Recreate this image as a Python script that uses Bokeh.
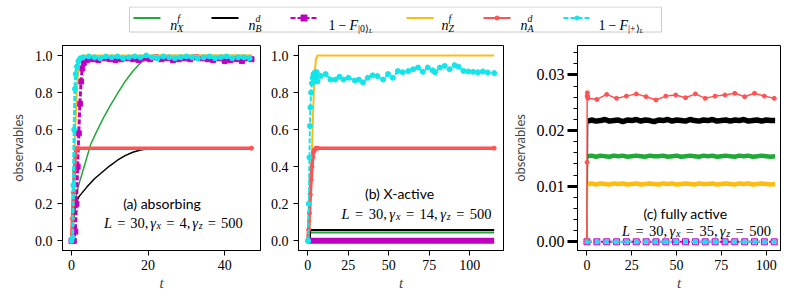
from bokeh.plotting import figure
from bokeh.models import Range1d, Label, FixedTicker, PrintfTickFormatter
from bokeh.layouts import row, column
from bokeh.embed import file_html
from bokeh.resources import INLINE

GREEN = "#22a838"; BLACK = "#000000"; MAGENTA = "#c000c0"
ORANGE = "#fcbc10"; RED = "#ff5252"; CYAN = "#12e6ea"

SERIF = "Liberation Serif"
AXSERIF = "'Liberation Serif', serif"
SANS = "Lato"

# ---------------- panel (a): absorbing ----------------
A_T_GREEN = [0, 0.5, 1.0, 1.5, 2, 3, 4, 5, 6, 8, 10, 12, 14, 16, 18, 20, 22, 30, 40, 47]
A_V_GREEN = [0, 0.10, 0.22, 0.27, 0.31, 0.38, 0.45, 0.52, 0.565, 0.65, 0.725, 0.795, 0.86, 0.915, 0.96, 0.99, 1.0, 1.0, 1.0, 1.0]
A_T_BLACK = [0, 0.5, 1, 2, 4, 6, 8, 10, 12, 14, 16, 18, 20, 24, 30, 47]
A_V_BLACK = [0, 0.1, 0.2, 0.24, 0.29, 0.335, 0.37, 0.405, 0.435, 0.46, 0.478, 0.49, 0.497, 0.5, 0.5, 0.5]
A_T_MAG = [0, 0.6, 1.0, 1.3, 1.6, 1.9, 2.2, 2.5, 2.8, 3.2, 4, 5.5, 7, 8.5, 10, 11.5, 13, 14.5, 16, 17.5,
           19, 20.5, 22, 23.5, 25, 26.5, 28, 29.5, 31, 32.5, 34, 35.5, 37, 38.5, 40, 41.5, 43, 44.5, 46, 47]
A_V_MAG = [0, 0, 0.05, 0.2, 0.4, 0.58, 0.74, 0.86, 0.93, 0.96, 0.975, 0.98, 0.975, 0.985, 0.98, 0.975, 0.98, 0.985, 0.98, 0.975,
           0.985, 0.98, 0.99, 0.98, 0.985, 0.975, 0.98, 0.985, 0.98, 0.99, 0.985, 0.98, 0.975, 0.985, 0.97, 0.975, 0.98, 0.97, 0.985, 0.98]
A_T_ORANGE = [0, 0.5, 1.0, 1.5, 2.0, 2.5, 3.0, 10, 20, 30, 47]
A_V_ORANGE = [0, 0.3, 0.62, 0.85, 0.96, 0.99, 1.0, 1.0, 1.0, 1.0, 1.0]
A_T_RED = [0, 0.25, 0.5, 0.75, 1.0, 1.25, 1.5, 47]
A_V_RED = [0, 0.12, 0.26, 0.38, 0.46, 0.49, 0.5, 0.5]
A_T_CYAN = [0, 0.3, 0.5, 0.7, 0.9, 1.1, 1.4, 1.8, 2.3, 3, 4.5, 6, 7.5, 9, 10.5, 12, 13.5, 15, 16.5, 18, 19.5,
            21, 22.5, 24, 25.5, 27, 28.5, 30, 31.5, 33, 34.5, 36, 37.5, 39, 40.5, 42, 43.5, 45, 46.5]
A_V_CYAN = [0, 0.02, 0.3, 0.6, 0.82, 0.9, 0.94, 0.97, 0.985, 0.99, 0.995, 0.99, 0.985, 0.995, 0.99, 0.995, 0.985, 0.99, 0.995, 0.99, 1.0,
            0.99, 0.985, 0.995, 0.99, 0.985, 0.99, 0.995, 0.99, 0.985, 0.99, 0.995, 0.985, 0.99, 0.995, 0.985, 0.99, 0.99, 0.985]

# ---------------- panel (b): X-active ----------------
B_T_GREEN = [0, 1.0, 1.5, 115]
B_V_GREEN = [0, 0, 0.045, 0.045]
B_T_BLACK = [0, 1.0, 1.5, 115]
B_V_BLACK = [0, 0, 0.058, 0.058]
B_T_MAG = [0, 115]
B_V_MAG = [0, 0]
B_T_ORANGE = [0, 1, 2, 3, 4, 5, 6, 115]
B_V_ORANGE = [0, 0.08, 0.3, 0.62, 0.88, 0.98, 1.0, 1.0]
B_T_RED = [0, 0.5, 1, 1.5, 2, 2.5, 3, 3.5, 4, 5, 6, 115]
B_V_RED = [0, 0.06, 0.15, 0.25, 0.33, 0.4, 0.45, 0.48, 0.49, 0.5, 0.5, 0.5]
B_T_CYAN = [0, 0.3, 0.6, 1.0, 1.3, 1.6, 2.0, 2.5, 3.0, 3.5, 4.0, 4.5, 5.0, 5.5, 6.0, 8, 11, 14, 17, 19.5,
            22, 25, 29, 31.5, 34, 37, 40, 43, 46.5, 49.5, 52.5, 55.5, 58.5, 62, 65, 68, 71, 74, 77, 78.5,
            81.5, 84.5, 87.5, 90.5, 93, 96, 99, 102, 105, 108, 111, 115]
B_V_CYAN = [0, 0.0, 0.2, 0.45, 0.62, 0.72, 0.8, 0.85, 0.88, 0.9, 0.86, 0.91, 0.88, 0.91, 0.86, 0.89, 0.9, 0.87, 0.87, 0.885,
            0.87, 0.88, 0.865, 0.87, 0.855, 0.88, 0.893, 0.889, 0.87, 0.9, 0.88, 0.916, 0.91, 0.916, 0.926, 0.935, 0.912, 0.935, 0.92, 0.91,
            0.935, 0.944, 0.926, 0.948, 0.94, 0.917, 0.914, 0.912, 0.91, 0.914, 0.909, 0.905]

# ---------------- panel (c): fully active ----------------
C_T_BAND = [0, 0.4, 2.5, 5.0, 7.5, 10.0, 12.5, 15.0, 17.5, 20.0, 22.5, 25.0, 27.5, 30.0, 32.5, 35.0, 37.5, 40.0, 42.5, 45.0,
            47.5, 50.0, 52.5, 55.0, 57.5, 60.0, 62.5, 65.0, 67.5, 70.0, 72.5, 75.0, 77.5, 80.0, 82.5, 85.0, 87.5, 90.0, 92.5, 95.0,
            97.5, 100.0, 102.5, 105.0]
C_V_BLACK = [0, 0.0217, 0.0219, 0.0217, 0.0218, 0.0220, 0.0217, 0.0218, 0.0219, 0.0216,
             0.0219, 0.0218, 0.0220, 0.0217, 0.0219, 0.0218, 0.0216, 0.0219, 0.0218, 0.0220,
             0.0217, 0.0219, 0.0218, 0.0217, 0.0220, 0.0218, 0.0217, 0.0219, 0.0218, 0.0220,
             0.0217, 0.0218, 0.0219, 0.0217, 0.0219, 0.0218, 0.0220, 0.0217, 0.0218, 0.0219,
             0.0217, 0.0219, 0.0218, 0.0218]
C_V_GREEN = [0, 0.0154, 0.0155, 0.0153, 0.0155, 0.0154, 0.0153, 0.0155, 0.0154, 0.0155,
             0.0153, 0.0154, 0.0155, 0.0154, 0.0153, 0.0155, 0.0154, 0.0154, 0.0155, 0.0153,
             0.0154, 0.0155, 0.0153, 0.0154, 0.0155, 0.0154, 0.0153, 0.0155, 0.0154, 0.0155,
             0.0153, 0.0154, 0.0155, 0.0154, 0.0153, 0.0155, 0.0154, 0.0155, 0.0153, 0.0154,
             0.0155, 0.0154, 0.0153, 0.0154]
C_V_ORANGE = [0, 0.0104, 0.0105, 0.0103, 0.0105, 0.0104, 0.0103, 0.0105, 0.0104, 0.0105,
              0.0103, 0.0104, 0.0105, 0.0103, 0.0104, 0.0105, 0.0104, 0.0103, 0.0105, 0.0104,
              0.0105, 0.0103, 0.0104, 0.0105, 0.0104, 0.0103, 0.0105, 0.0104, 0.0104, 0.0105,
              0.0103, 0.0104, 0.0105, 0.0104, 0.0103, 0.0105, 0.0104, 0.0105, 0.0103, 0.0104,
              0.0105, 0.0104, 0.0103, 0.0104]
C_T_RED = [0, 0.05, 0.1, 0.2, 0.3, 0.5, 5.5, 11, 16.5, 22, 27.5, 33, 38.5, 44, 49.5, 55, 60.5, 66, 71.5, 77,
           82.5, 88, 93.5, 99, 104.5]
C_V_RED = [0, 0.0143, 0.0262, 0.0268, 0.0262, 0.0258, 0.0256, 0.0265, 0.0258, 0.0262, 0.0266, 0.0261, 0.0255, 0.0262,
           0.0264, 0.0259, 0.0266, 0.0258, 0.0262, 0.0264, 0.0267, 0.0261, 0.0267, 0.0262, 0.0258]
C_T_ZERO = [0, 5.5, 11, 16.5, 22, 27.5, 33, 38.5, 44, 49.5, 55, 60.5, 66, 71.5, 77, 82.5, 88, 93.5, 99, 104.5]
C_V_ZERO = [0, 0, 0, 0, 0, 0, 0, 0, 0, 0, 0, 0, 0, 0, 0, 0, 0, 0, 0, 0]

# ticks
AB_YTICKS = [0.0, 0.2, 0.4, 0.6, 0.8, 1.0]
A_XTICKS = [0, 20, 40]
BC_XTICKS = [0, 25, 50, 75, 100]
C_YTICKS = [0.0, 0.01, 0.02, 0.03]
C_YMINOR = [0.002, 0.004, 0.006, 0.008, 0.012, 0.014, 0.016, 0.018, 0.022, 0.024, 0.026, 0.028, 0.032, 0.034]

# ---------------- text helpers ----------------
W_RM = {' ': 0.25, '=': 0.564, '−': 0.564, '+': 0.564, ',': 0.25, '|': 0.2, '(': 0.333, ')': 0.333, '⟩': 0.39, '.': 0.25}
W_IT = {'L': 0.556, 'γ': 0.45, 'x': 0.444, 'z': 0.389, 'n': 0.5, 'F': 0.611, 'X': 0.611, 'B': 0.611,
        'Z': 0.556, 'A': 0.611, 'f': 0.278, 'd': 0.5}


def tw(s, it):
    tab = W_IT if it else W_RM
    return sum(tab.get(c, W_RM.get(c, 0.5)) for c in s)


def put_math(p, info, fx, fy, pieces, size):
    """pieces: (text, italic, scale, dy_em, advance) or (None, gap_em)"""
    x0, x1, y0, y1, fw, fh = info
    x = 0.0
    for pc in pieces:
        if pc[0] is None:
            x += pc[1] * size
            continue
        txt, it, sc, dy, adv = pc
        s = size * sc
        px = fx + x
        py = fy + dy * size
        p.add_layout(Label(x=x0 + px / fw * (x1 - x0), y=y1 - py / fh * (y1 - y0), text=txt,
                           text_font=SERIF, text_font_size=f"{s:.1f}px",
                           text_font_style="italic" if it else "normal",
                           text_baseline="alphabetic", text_align="left", text_color="black"))
        if adv:
            x += tw(txt, it) * s


def put_text(p, info, fx, fy, txt, size, font=SANS):
    x0, x1, y0, y1, fw, fh = info
    p.add_layout(Label(x=x0 + fx / fw * (x1 - x0), y=y1 - fy / fh * (y1 - y0), text=txt,
                       text_font=font, text_font_size=f"{size}px", text_baseline="middle",
                       text_align="center", text_color="black"))


def params_pieces(gx):
    g = 0.38
    return [("L", True, 1, 0, True), (None, g), ("=", False, 1, 0, True), (None, g), ("30,", False, 1, 0, True), (None, 0.17),
            ("γ", True, 1, 0, True), ("x", True, 0.7, 0.2, True), (None, g), ("=", False, 1, 0, True), (None, g),
            (gx + ",", False, 1, 0, True), (None, 0.17),
            ("γ", True, 1, 0, True), ("z", True, 0.7, 0.2, True), (None, g), ("=", False, 1, 0, True), (None, g),
            ("500", False, 1, 0, True)]


FW, FH = 205, 205
TOP, BOT = 10, 45


def make_panel(xr, yr, width, left, right):
    p = figure(width=width, height=TOP + FH + BOT, x_range=Range1d(*xr), y_range=Range1d(*yr),
               output_backend="svg", toolbar_location=None, min_border_left=left, min_border_right=right,
               min_border_top=TOP, min_border_bottom=BOT)
    p.grid.visible = False
    p.outline_line_color = "black"
    p.outline_line_width = 1
    p.outline_line_alpha = 1
    p.background_fill_color = "white"
    p.border_fill_color = "white"
    for ax in (p.xaxis[0], p.yaxis[0]):
        ax.major_tick_in = 0
        ax.major_tick_out = 5
        ax.major_tick_line_color = "black"
        ax.minor_tick_line_color = None
        ax.axis_line_color = "black"
        ax.major_label_text_font = AXSERIF
        ax.major_label_text_font_size = "14px"
        ax.major_label_text_color = "black"
    p.xaxis.major_label_standoff = 4
    p.yaxis.major_label_standoff = 5
    p.xaxis.axis_label = "t"
    p.xaxis.axis_label_text_font = AXSERIF
    p.xaxis.axis_label_text_font_style = "italic"
    p.xaxis.axis_label_text_font_size = "15px"
    p.xaxis.axis_label_standoff = 2
    p.yaxis.axis_label = "observables"
    p.yaxis.axis_label_text_font = SANS
    p.yaxis.axis_label_text_font_style = "normal"
    p.yaxis.axis_label_text_font_size = "13px"
    p.yaxis.axis_label_standoff = 6
    p.xaxis.formatter = PrintfTickFormatter(format="%d")
    info = (xr[0], xr[1], yr[0], yr[1], FW, FH)
    return p, info


def plot_series(p, t, v, kind, lw=None):
    if kind == "green":
        p.line(t, v, color=GREEN, line_width=lw or 1.5)
    elif kind == "black":
        p.line(t, v, color=BLACK, line_width=lw or 1.5)
    elif kind == "orange":
        p.line(t, v, color=ORANGE, line_width=lw or 1.5)
    elif kind == "magenta":
        p.line(t, v, color=MAGENTA, line_width=lw or 2.5, line_dash="5 2")
        p.scatter(t, v, marker="square", size=5, color=MAGENTA)
    elif kind == "red":
        p.line(t, v, color=RED, line_width=lw or 2.5)
        p.scatter(t, v, marker="circle", size=4, color=RED)
    elif kind == "cyan":
        p.line(t, v, color=CYAN, line_width=lw or 2.5, line_dash="5 2")
        p.scatter(t, v, marker="circle", size=5, color=CYAN)


def band(p, t, v, color, lw):
    # thin rise at t = 0, then the thick noisy plateau
    p.line(t[:2], v[:2], color=color, line_width=1.2)
    p.line(t[1:], v[1:], color=color, line_width=lw)


# ---------------- panel (a) ----------------
pa, ia = make_panel((-2.35, 49.35), (-0.052, 1.054), 258, 49, 4)
pa.xaxis.ticker = FixedTicker(ticks=A_XTICKS)
pa.yaxis.ticker = FixedTicker(ticks=AB_YTICKS)
pa.yaxis.formatter = PrintfTickFormatter(format="%.1f")
plot_series(pa, A_T_GREEN, A_V_GREEN, "green")
plot_series(pa, A_T_BLACK, A_V_BLACK, "black")
plot_series(pa, A_T_MAG, A_V_MAG, "magenta", 3)
plot_series(pa, A_T_ORANGE, A_V_ORANGE, "orange", 2)
plot_series(pa, A_T_RED, A_V_RED, "red", 3.5)
plot_series(pa, A_T_CYAN, A_V_CYAN, "cyan", 3)
put_text(pa, ia, 103, 158, "(a) absorbing", 14)
put_math(pa, ia, 43, 177, params_pieces("4"), 14.5)

# ---------------- panel (b) ----------------
pb, ib = make_panel((-5.75, 120.75), (-0.052, 1.054), 244, 34, 5)
pb.xaxis.ticker = FixedTicker(ticks=BC_XTICKS)
pb.yaxis.ticker = FixedTicker(ticks=AB_YTICKS)
pb.yaxis.formatter = PrintfTickFormatter(format="%.1f")
pb.yaxis.axis_label = None
plot_series(pb, B_T_GREEN, B_V_GREEN, "green", 2)
plot_series(pb, B_T_BLACK, B_V_BLACK, "black", 2)
pb.line(B_T_MAG, B_V_MAG, color=MAGENTA, line_width=6)
plot_series(pb, B_T_ORANGE, B_V_ORANGE, "orange", 2)
plot_series(pb, B_T_RED, B_V_RED, "red", 3.5)
plot_series(pb, B_T_CYAN, B_V_CYAN, "cyan", 2)
put_text(pb, ib, 101, 148, "(b) X-active", 14)
put_math(pb, ib, 43, 168, params_pieces("14"), 14.5)

# ---------------- panel (c) ----------------
pc, ic = make_panel((-5.3, 108.0), (-0.00156, 0.0353), 275, 67, 3)
pc.xaxis.ticker = FixedTicker(ticks=BC_XTICKS)
pc.yaxis.ticker = FixedTicker(ticks=C_YTICKS, minor_ticks=C_YMINOR)
pc.yaxis.formatter = PrintfTickFormatter(format="%.2f")
pc.yaxis.major_tick_out = 10
pc.yaxis.major_tick_line_width = 3
pc.yaxis.minor_tick_line_color = "black"
pc.yaxis.minor_tick_out = 4
pc.yaxis.minor_tick_in = 0
pc.yaxis.major_label_text_font_size = "16px"
pc.yaxis.major_label_standoff = 3
band(pc, C_T_BAND, C_V_GREEN, GREEN, 4.5)
band(pc, C_T_BAND, C_V_BLACK, BLACK, 5.5)
pc.scatter(C_T_ZERO, C_V_ZERO, marker="square", size=6, fill_color="#f0a0f0", line_color=MAGENTA)
pc.line(C_T_ZERO, C_V_ZERO, color=MAGENTA, line_width=2, line_dash="5 2")
band(pc, C_T_BAND, C_V_ORANGE, ORANGE, 4.5)
plot_series(pc, C_T_RED, C_V_RED, "red", 1.5)
pc.line(C_T_ZERO, C_V_ZERO, color=CYAN, line_width=2, line_dash="5 3")
pc.scatter(C_T_ZERO, C_V_ZERO, marker="circle", size=3.5, color=CYAN)
put_text(pc, ic, 109, 168, "(c) fully active", 14)
put_math(pc, ic, 45, 185, params_pieces("35"), 14.5)

# ---------------- legend ----------------
LH = 29
leg = figure(width=777, height=LH, x_range=Range1d(0, 777), y_range=Range1d(LH, 0),
             output_backend="svg", toolbar_location=None, min_border=0,
             x_axis_location=None, y_axis_location=None)
leg.grid.visible = False
leg.outline_line_color = None
leg.quad(left=[123], right=[655], top=[0.5], bottom=[25.5], fill_color="white", line_color="#cccccc", line_width=1)
il = (0, 777, LH, 0, 777, LH)
HY = 11.5
BY = 18.5


def handle(x, kind):
    xs = [x, x + 27]
    ys = [HY, HY]
    if kind == "magenta":
        leg.line(xs, ys, color=MAGENTA, line_width=2, line_dash="5 2")
        leg.scatter([x + 13.5], [HY], marker="square", size=6, color=MAGENTA)
    elif kind == "red":
        leg.line(xs, ys, color=RED, line_width=2)
        leg.scatter([x + 13.5], [HY], marker="circle", size=4, color=RED)
    elif kind == "cyan":
        leg.line(xs, ys, color=CYAN, line_width=2, line_dash="5 2")
        leg.scatter([x + 13.5], [HY], marker="circle", size=4, color=CYAN)
    else:
        leg.line(xs, ys, color={"green": GREEN, "black": BLACK, "orange": ORANGE}[kind], line_width=2)


def n_label(sup, sub):
    return [("n", True, 1, 0, True), (sup, True, 0.7, -0.5, False), (sub, True, 0.7, 0.28, True)]


def f_label(ket):
    return [("1", False, 1, 0, True), (None, 0.22), ("−", False, 1, 0, True), (None, 0.22), ("F", True, 1, 0, True),
            ("|" + ket + "⟩", False, 0.7, 0.25, True), ("L", True, 0.5, 0.45, True)]


entries = [(127, "green", 163.7, n_label("f", "X")),
           (205, "black", 242, n_label("d", "B")),
           (284, "magenta", 322, f_label("0")),
           (400, "orange", 435, n_label("f", "Z")),
           (477, "red", 514, n_label("d", "A")),
           (557, "cyan", 592, f_label("+"))]
for hx, kind, lx, pcs in entries:
    handle(hx, kind)
    put_math(leg, il, lx, BY, pcs, 14)

layout = column(leg, row(pa, pb, pc), margin=(6, 0, 0, 6))
open("out.html", "w").write(file_html(layout, INLINE))
